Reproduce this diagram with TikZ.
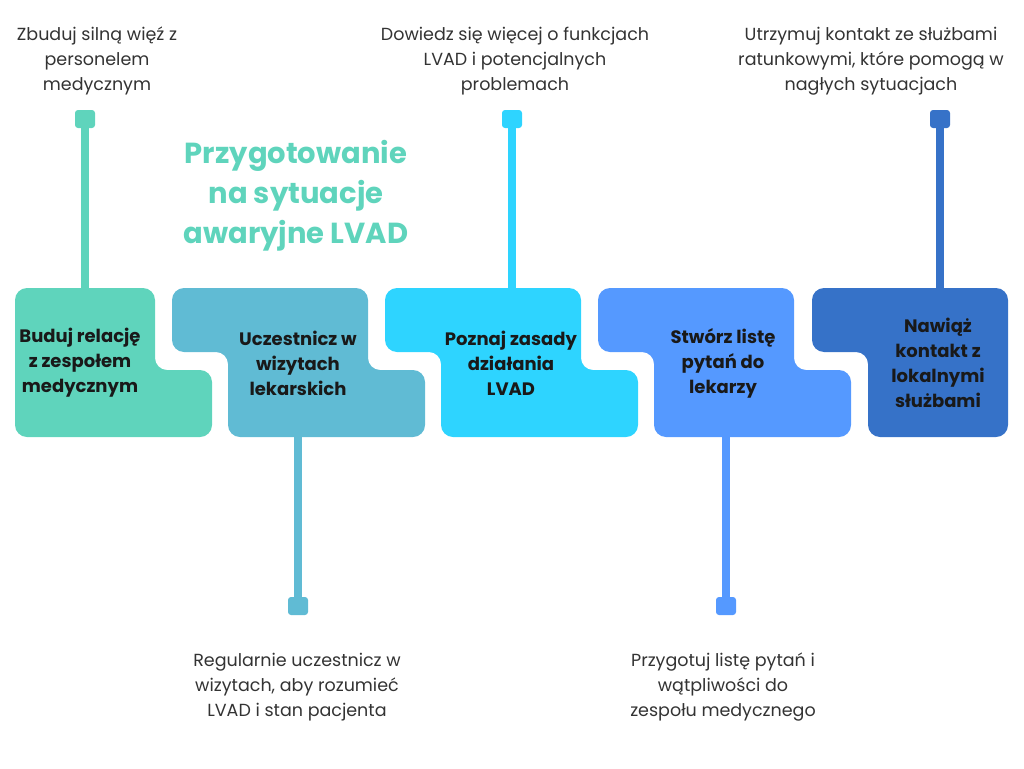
\documentclass[tikz,border=0pt]{standalone}
\usepackage{fontspec}
\setmainfont{Poppins}
\definecolor{stepA}{HTML}{5FD4BC}
\definecolor{stepB}{HTML}{60BBD4}
\definecolor{stepC}{HTML}{2ED4FF}
\definecolor{stepD}{HTML}{5599FF}
\definecolor{stepE}{HTML}{3672C8}
\definecolor{notegray}{HTML}{333333}
\tikzset{
  knob/.style={rectangle,rounded corners=3pt,minimum width=20pt,minimum height=18pt,inner sep=0pt,fill=#1},
  stem/.style={line width=8pt,draw=#1},
  note/.style={align=center,text=notegray,font=\fontsize{17.5}{25}\selectfont},
  boxtext/.style={align=center,text=black!90,font=\bfseries\fontsize{18}{25}\selectfont},
  headline/.style={align=center,text=stepA,font=\bfseries\fontsize{29}{40}\selectfont}
}

\begin{document}
\begin{tikzpicture}[x=1pt,y=-1pt]
\useasboundingbox (0,0) rectangle (1024,768);

% step boxes
\fill[stepA,rounded corners=12pt] (15,288)--(155,288)--(155,370)--(212,370)--(212,437)--(15,437)--cycle;
\fill[stepB,rounded corners=12pt] (172,288)--(368,288)--(368,370)--(425,370)--(425,437)--(228,437)--(228,352)--(172,352)--cycle;
\fill[stepC,rounded corners=12pt] (385,288)--(581,288)--(581,370)--(638,370)--(638,437)--(441,437)--(441,352)--(385,352)--cycle;
\fill[stepD,rounded corners=12pt] (598,288)--(794,288)--(794,370)--(851,370)--(851,437)--(654,437)--(654,352)--(598,352)--cycle;
\fill[stepE,rounded corners=12pt] (812,288)--(1008,288)--(1008,437)--(868,437)--(868,352)--(812,352)--cycle;

\coordinate (topA) at (85,290);
\coordinate (botB) at (298,435);
\coordinate (topC) at (512,290);
\coordinate (botD) at (726,435);
\coordinate (topE) at (940,290);

% knobs and stems
\node[knob=stepA] (knobA) at (85,119) {};
\node[knob=stepB] (knobB) at (298,606) {};
\node[knob=stepC] (knobC) at (512,119) {};
\node[knob=stepD] (knobD) at (726,606) {};
\node[knob=stepE] (knobE) at (940,119) {};
\draw[stem=stepA] (knobA.center) -- (topA);
\draw[stem=stepB] (knobB.center) -- (botB);
\draw[stem=stepC] (knobC.center) -- (topC);
\draw[stem=stepD] (knobD.center) -- (botD);
\draw[stem=stepE] (knobE.center) -- (topE);

% texts in boxes
\node[boxtext] (stepone) at (80,363) {Buduj relację\\z zespołem\\medycznym};
\node[boxtext] (steptwo) at (298,363) {Uczestnicz w\\wizytach\\lekarskich};
\node[boxtext] (stepthree) at (511,363) {Poznaj zasady\\działania\\LVAD};
\node[boxtext] (stepfour) at (723,363) {Stwórz listę\\pytań do\\lekarzy};
\node[boxtext] (stepfive) at (938,363) {Nawiąż\\kontakt z\\lokalnymi\\służbami};

% notes
\node[note] (noteA) at (97,61) {Zbuduj silną więź z\\personelem\\medycznym};
\node[note] (noteC) at (515,61) {Dowiedz się więcej o funkcjach\\LVAD i potencjalnych\\problemach};
\node[note] (noteE) at (871,61) {Utrzymuj kontakt ze służbami\\ratunkowymi, które pomogą w\\nagłych sytuacjach};
\node[note] (noteB) at (297,687) {Regularnie uczestnicz w\\wizytach, aby rozumieć\\LVAD i stan pacjenta};
\node[note] (noteD) at (723,687) {Przygotuj listę pytań i\\wątpliwości do\\zespołu medycznego};

\node[headline] (title) at (296,196) {Przygotowanie\\na sytuacje\\awaryjne LVAD};
\end{tikzpicture}
\end{document}
